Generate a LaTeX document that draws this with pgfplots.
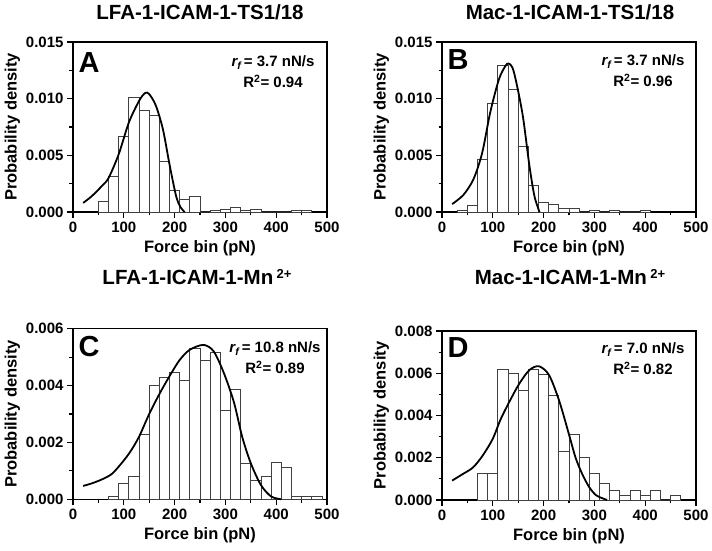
\documentclass[border=0pt]{standalone}
\usepackage{pgfplots}
\pgfplotsset{compat=1.18}
\usepackage{fontspec}
\setmainfont{Liberation Sans}
\begin{document}
\begin{tikzpicture}
\useasboundingbox (0pt,0pt) rectangle (712pt,551pt);
\pgfplotsset{
 panel/.style={
  scale only axis, width=254pt, anchor=south west,
  xmin=0, xmax=500, ymin=0,
  axis line style={line width=1.1pt},
  every tick/.style={line width=1.1pt, black},
  tick align=outside, xtick pos=bottom, ytick pos=left,
  xtick={0,100,...,500}, minor x tick num=1,
  minor y tick num=1,
  major tick length=6pt, minor tick length=3.5pt,
  scaled y ticks=false,
  yticklabel style={/pgf/number format/.cd, fixed, fixed zerofill, precision=3, assume math mode=true},
  xticklabel style={/pgf/number format/.cd, assume math mode=true, 1000 sep={}},
  tick label style={font=\fontsize{15}{16}\selectfont\bfseries},
  label style={font=\fontsize{16.5}{17}\selectfont\bfseries},
  ylabel style={yshift=-1pt},
  xlabel style={yshift=-1.5pt},
  xlabel={Force bin (pN)}, ylabel={Probability density},
  clip=false,
 },
 bars/.style={ybar interval, fill=white, draw=black!75, line width=0.8pt},
 fit/.style={black, line width=1.8pt, smooth, tension=0.5, mark=none},
}
\tikzset{
 ttl/.style={font=\fontsize{20.5}{22}\selectfont\bfseries},
 lett/.style={font=\fontsize{29}{30}\selectfont\bfseries},
 ann/.style={font=\fontsize{15}{21}\selectfont\bfseries, align=center},
}
% ---------- A ----------
\begin{axis}[panel, at={(73pt,339pt)}, height=170pt, ymax=0.015, ytick={0,0.005,0.010,0.015}]
\addplot[bars] coordinates {(50,0.00095) (70,0.0031) (90,0.0067) (110,0.0101) (130,0.0090) (150,0.0085) (170,0.0045) (190,0.0019) (210,0.00115) (230,0.0014) (250,0) (270,0.0001) (290,0.00027) (310,0.00044) (330,0.0001) (350,0.00027) (370,0) (390,0) (410,0) (430,0.0001) (450,0.0001) (470,0)};
\addplot[fit] coordinates {(20,0.0008) (37,0.0014) (57,0.0023) (70,0.0030) (90,0.0051) (110,0.0079) (130,0.0098) (142,0.0105) (150,0.0104) (163,0.0094) (177,0.0073) (190,0.0042) (203,0.0014) (212,0.0004) (220,0.0)};
\end{axis}
% ---------- B ----------
\begin{axis}[panel, at={(442pt,339pt)}, height=170pt, ymax=0.015, ytick={0,0.005,0.010,0.015}]
\addplot[bars] coordinates {(30,0.00015) (50,0.00056) (70,0.00465) (90,0.0096) (110,0.0129) (130,0.0108) (150,0.0058) (170,0.00237) (190,0.00089) (210,0.00071) (230,0.00033) (250,0.00033) (270,0) (290,0.0001) (310,0) (330,0.0001) (350,0) (370,0) (390,0.0001) (410,0)};
\addplot[fit] coordinates {(20,0.0007) (42,0.0015) (62,0.0029) (79,0.0052) (95,0.0088) (112,0.0117) (125,0.0129) (131,0.0131) (138,0.0128) (145,0.0117) (159,0.0085) (172,0.0041) (182,0.0014) (192,0.0)};
\end{axis}
% ---------- C ----------
\begin{axis}[panel, at={(73pt,51.7pt)}, height=170.6pt, ymax=0.006, ytick={0,0.002,0.004,0.006}]
\addplot[bars] coordinates {(70,0.0001) (90,0.00056) (110,0.00082) (130,0.0023) (150,0.0040) (170,0.0043) (190,0.00447) (210,0.00417) (230,0.0053) (250,0.00487) (270,0.00517) (290,0.00313) (310,0.00386) (330,0.00127) (350,0.00068) (370,0.00082) (390,0.0013) (410,0.00112) (430,0.0001) (450,0.0001) (470,0.0001) (490,0)};
\addplot[fit] coordinates {(20,0.00047) (37,0.00056) (57,0.0007) (77,0.0009) (97,0.0013) (113,0.00168) (130,0.0022) (150,0.0030) (170,0.0037) (190,0.00433) (210,0.0049) (230,0.00526) (257,0.00543) (277,0.0052) (297,0.00444) (317,0.0034) (333,0.0022) (350,0.00127) (370,0.0005) (390,0.0001) (410,0.0)};
\end{axis}
% ---------- D ----------
\begin{axis}[panel, at={(442pt,51pt)}, height=169pt, ymax=0.008, ytick={0,0.002,0.004,0.006,0.008}]
\addplot[bars] coordinates {(70,0.00126) (90,0.00126) (110,0.0062) (130,0.0060) (150,0.00517) (170,0.0062) (190,0.00595) (210,0.00493) (230,0.0023) (250,0.0031) (270,0.00203) (290,0.00126) (310,0.00077) (330,0.00046) (350,0.00022) (370,0.00046) (390,0.00022) (410,0.00046) (430,0) (450,0.00022) (470,0)};
\addplot[fit] coordinates {(20,0.00092) (41,0.00123) (61,0.00154) (80,0.0021) (100,0.0029) (115,0.0038) (133,0.00467) (152,0.0055) (172,0.00615) (191,0.00633) (211,0.0059) (231,0.00467) (250,0.0031) (263,0.0020) (276,0.00123) (290,0.0006) (303,0.00023) (316,0.00008) (325,0.0)};
\end{axis}
% ---------- titles and annotations ----------
\node[ttl] at (200pt,539pt) {LFA-1-ICAM-1-TS1/18};
\node[ttl] at (570pt,539pt) {Mac-1-ICAM-1-TS1/18};
\node[ttl] at (197pt,274pt) {LFA-1-ICAM-1-Mn\,\raisebox{0.6ex}{\fontsize{13}{13}\selectfont 2+}};
\node[ttl] at (570pt,274pt) {Mac-1-ICAM-1-Mn\,\raisebox{0.6ex}{\fontsize{13}{13}\selectfont 2+}};
\node[lett] at (89pt,488pt) {A};
\node[lett] at (458pt,491pt) {B};
\node[lett] at (89pt,204pt) {C};
\node[lett] at (458pt,203pt) {D};
\node[ann] at (273pt,479pt) {{\itshape r}\textsubscript{\itshape f}\,= 3.7 nN/s\\R\textsuperscript{2}= 0.94};
\node[ann] at (643pt,480pt) {{\itshape r}\textsubscript{\itshape f}\,= 3.7 nN/s\\R\textsuperscript{2}= 0.96};
\node[ann] at (275pt,193pt) {{\itshape r}\textsubscript{\itshape f}\,= 10.8 nN/s\\R\textsuperscript{2}= 0.89};
\node[ann] at (643pt,192pt) {{\itshape r}\textsubscript{\itshape f}\,= 7.0 nN/s\\R\textsuperscript{2}= 0.82};
\end{tikzpicture}
\end{document}
